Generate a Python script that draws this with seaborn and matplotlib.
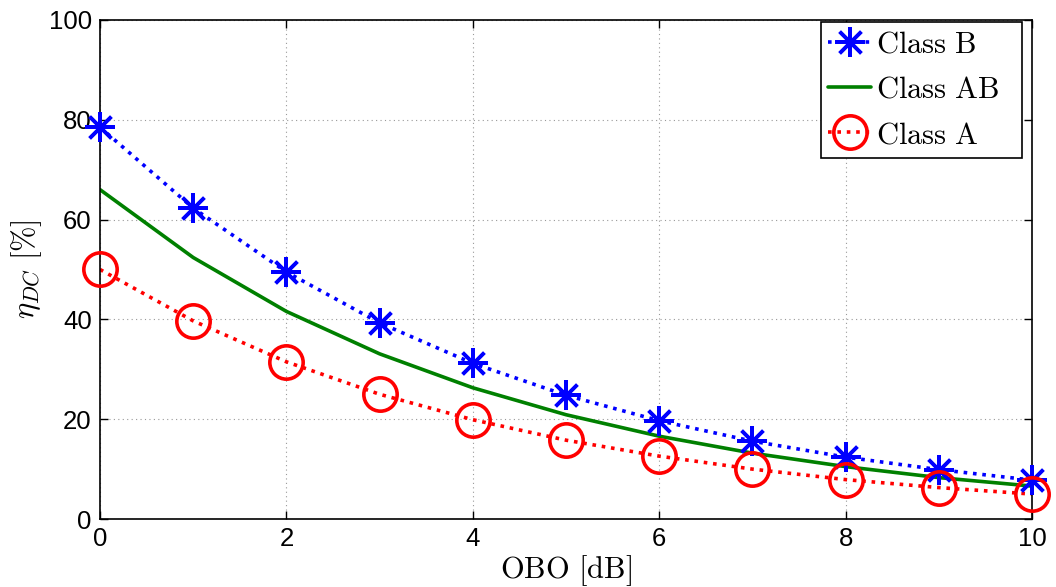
import numpy as np
import pandas as pd
import matplotlib
matplotlib.use("Agg")
import matplotlib.pyplot as plt
import seaborn as sns
from matplotlib.lines import Line2D

obo_db = [0, 1, 2, 3, 4, 5, 6, 7, 8, 9, 10]
eta_class_b = [78.5, 62.3, 49.5, 39.3, 31.2, 24.8, 19.7, 15.6, 12.4, 9.9, 7.8]
eta_class_ab = [66.0, 52.4, 41.6, 33.1, 26.3, 20.9, 16.6, 13.2, 10.5, 8.3, 6.6]
eta_class_a = [50.0, 39.7, 31.5, 25.0, 19.9, 15.8, 12.6, 10.0, 7.9, 6.3, 5.0]

series_names = ["Class B", "Class AB", "Class A"]
x_ticks = [0, 2, 4, 6, 8, 10]
y_ticks = [0, 20, 40, 60, 80, 100]

sns.set_theme(style="white")
plt.rcParams["mathtext.fontset"] = "cm"
plt.rcParams["font.family"] = ["Liberation Sans", "DejaVu Sans"]
plt.rcParams["text.color"] = "black"
plt.rcParams["axes.labelcolor"] = "black"
plt.rcParams["xtick.color"] = "black"
plt.rcParams["ytick.color"] = "black"

df = pd.DataFrame({
    "OBO": obo_db * 3,
    "eta": eta_class_b + eta_class_ab + eta_class_a,
    "cls": [series_names[0]] * len(obo_db) + [series_names[1]] * len(obo_db)
           + [series_names[2]] * len(obo_db),
})

fig = plt.figure(figsize=(10.56, 5.87), dpi=100)
ax = fig.add_axes([0.0947, 0.1158, 0.8826, 0.8502])

LW = 2.6
DOT = (0, (1.0, 1.6))
colors = {"Class B": "#0000ff", "Class AB": "#008000", "Class A": "#ff0000"}
dashes = {"Class B": DOT, "Class AB": "-", "Class A": DOT}

for name in series_names:
    sub = df[df["cls"] == name]
    sns.lineplot(data=sub, x="OBO", y="eta", ax=ax, color=colors[name],
                 linewidth=LW, legend=False)
    ax.lines[-1].set_linestyle(dashes[name])

# point markers: asterisk (plus + cross) for Class B, open circles for Class A
sub_b = df[df["cls"] == "Class B"]
sub_a = df[df["cls"] == "Class A"]
for ang in (0, 45):
    ax.plot(sub_b["OBO"], sub_b["eta"], linestyle="none", marker=(4, 2, ang),
            markersize=22, markeredgewidth=2.6, color=colors["Class B"],
            clip_on=False, zorder=4)
ax.plot(sub_a["OBO"], sub_a["eta"], linestyle="none", marker="o",
        markersize=24, markeredgewidth=2.6, markerfacecolor="none",
        color=colors["Class A"], clip_on=False, zorder=4)

ax.set_xlim(0, 10)
ax.set_ylim(0, 100)
ax.set_xticks(x_ticks)
ax.set_yticks(y_ticks)
ax.tick_params(axis="both", labelsize=18.5, direction="in", length=6, width=1,
               color="black", labelcolor="black", pad=6,
               bottom=True, left=True, top=True, right=True)
ax.grid(True, linestyle=(0, (1, 3)), color="#999999", linewidth=0.8)
for sp in ax.spines.values():
    sp.set_color("black")
    sp.set_linewidth(1.2)

ax.set_xlabel(r"$\mathrm{OBO\ [dB]}$", fontsize=22, labelpad=1)
ax.set_ylabel(r"$\eta_{DC}\ \mathrm{[\%]}$", fontsize=22, labelpad=3)

h_b = (Line2D([], [], color=colors["Class B"], linestyle=DOT, linewidth=LW,
              marker=(4, 2, 0), markersize=22, markeredgewidth=2.6),
       Line2D([], [], color=colors["Class B"], linestyle="none", marker=(4, 2, 45),
              markersize=22, markeredgewidth=2.6))
h_ab = Line2D([], [], color=colors["Class AB"], linewidth=LW)
h_a = Line2D([], [], color=colors["Class A"], linestyle=DOT, linewidth=LW,
             marker="o", markersize=24, markeredgewidth=2.6, markerfacecolor="none")
leg = ax.legend([h_b, h_ab, h_a],
                [r"$\mathrm{Class\ B}$", r"$\mathrm{Class\ AB}$", r"$\mathrm{Class\ A}$"],
                loc="upper right", bbox_to_anchor=(0.9893, 0.996),
                fontsize=22, frameon=True, fancybox=False,
                framealpha=1, edgecolor="black", handlelength=1.4,
                handletextpad=0.15, borderpad=0.25, labelspacing=0.5,
                borderaxespad=0.0)
leg.get_frame().set_linewidth(1.2)

# leave some empty room to the right of the legend labels
try:
    col = leg._legend_handle_box.get_children()[0]
    col.align = "left"
    col.width = 186.0
except Exception:
    pass

fig.savefig("out.png", dpi=100)
